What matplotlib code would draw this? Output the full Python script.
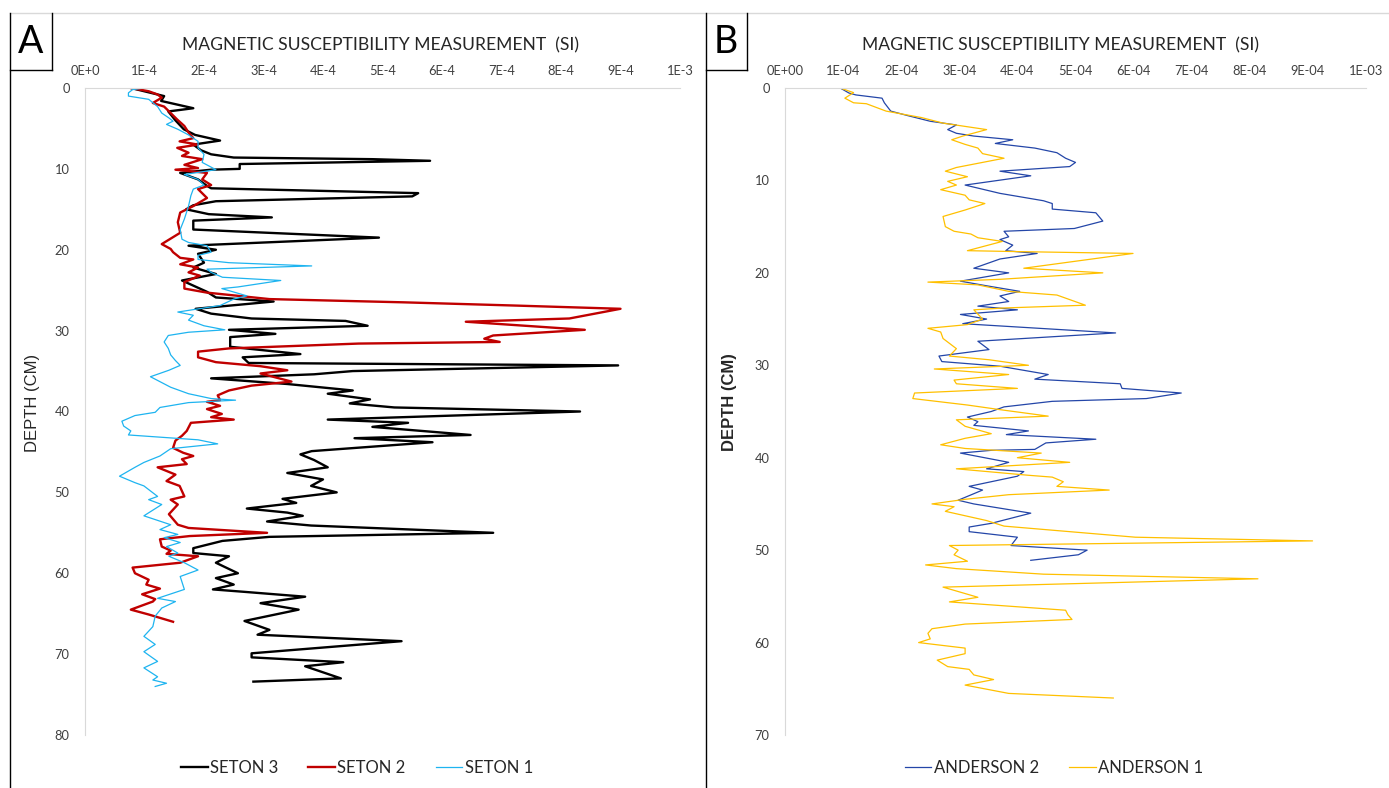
import numpy as np
import matplotlib
matplotlib.use('Agg')
import matplotlib.pyplot as plt
from matplotlib.lines import Line2D

# values are in units of 1E-4 SI, depths in cm
seton3_depth = [0, 1.0, 1.6, 2.5, 2.9, 4.0, 5.1, 5.8, 6.5, 7.0,
                7.7, 8.2, 8.6, 8.8, 9.0, 9.4, 10.0, 10.1, 10.5, 10.9,
                11.3, 12.1, 12.4, 13.0, 13.4, 14.0, 14.5, 15.0, 15.6, 16.0,
                16.4, 17.5, 18.5, 19.5, 20.0, 20.5, 21.6, 22.2, 23.0, 23.8,
                25.2, 25.9, 26.4, 27.3, 27.9, 28.5, 28.8, 29.4, 29.9, 30.4,
                30.8, 32.0, 32.9, 33.3, 34.0, 34.3, 35.0, 35.4, 35.9, 36.6,
                37.4, 37.8, 38.5, 39.0, 39.5, 40.0, 41.0, 41.4, 41.9, 42.9,
                43.3, 43.8, 44.9, 45.3, 46.0, 46.9, 47.6, 48.4, 49.2, 50.0,
                50.8, 51.3, 52.0, 52.5, 52.9, 53.6, 54.1, 55.0, 55.5, 56.0,
                56.9, 57.5, 57.9, 58.7, 60.0, 60.6, 61.4, 62.0, 62.3, 62.9,
                63.7, 64.5, 65.9, 67.0, 67.6, 68.4, 69.9, 70.4, 71.0, 71.5,
                73.0, 73.4]
seton3_val = [0.77, 1.33, 1.28, 1.82, 1.40, 1.52, 1.66, 1.85, 2.27, 1.82,
              1.95, 2.12, 2.50, 4.83, 5.80, 2.60, 2.60, 2.12, 1.60, 1.75,
              1.90, 2.05, 2.12, 5.60, 5.50, 2.20, 1.82, 1.70, 2.08, 3.14,
              1.82, 1.82, 4.94, 1.74, 2.20, 1.90, 2.00, 1.82, 2.20, 1.63,
              2.05, 2.20, 3.17, 1.86, 2.12, 2.80, 4.38, 4.75, 2.42, 3.20,
              2.44, 2.44, 3.62, 2.65, 2.75, 8.96, 4.50, 3.85, 2.12, 3.40,
              4.50, 4.08, 4.79, 4.45, 5.20, 8.32, 4.08, 5.43, 4.83, 6.48,
              4.53, 5.84, 3.81, 3.62, 3.85, 4.08, 3.40, 4.00, 3.80, 4.23,
              3.32, 3.55, 2.72, 3.40, 3.66, 3.06, 3.80, 6.86, 3.10, 2.31,
              1.82, 1.82, 2.42, 2.20, 2.57, 2.20, 2.50, 2.15, 2.68, 3.70,
              2.95, 3.59, 2.68, 3.10, 2.90, 5.32, 2.80, 2.80, 4.34, 3.70,
              4.30, 2.83]

seton2_depth = [0, 0.4, 0.8, 1.2, 1.85, 2.3, 3.1, 3.9, 4.7, 5.5,
                6.2, 6.6, 7.0, 7.4, 8.0, 8.4, 8.8, 9.5, 9.9, 10.1,
                10.5, 11.3, 12.0, 12.5, 13.6, 14.6, 15.4, 16.6, 17.9, 19.3,
                19.9, 20.3, 21.0, 21.2, 21.8, 22.2, 22.8, 23.2, 24.0, 24.8,
                25.3, 26.1, 26.5, 26.9, 27.3, 28.5, 28.9, 29.9, 30.6, 31.0,
                31.4, 31.6, 32.2, 32.6, 33.3, 33.9, 34.4, 34.9, 35.3, 36.3,
                36.8, 37.4, 38.0, 38.6, 38.8, 39.3, 39.7, 40.3, 40.7, 41.0,
                41.4, 42.4, 43.0, 43.6, 44.5, 45.1, 45.5, 45.9, 46.5, 46.9,
                47.8, 48.6, 49.2, 50.5, 50.9, 51.5, 52.7, 54.0, 54.4, 55.0,
                55.4, 55.8, 56.7, 57.2, 57.6, 57.9, 58.7, 59.3, 60.0, 60.8,
                61.4, 61.9, 62.6, 63.2, 63.5, 64.5, 65.1, 66.0]
seton2_val = [0.77, 1.07, 1.22, 1.29, 1.14, 1.33, 1.44, 1.55, 1.67, 1.74,
              1.82, 1.59, 1.90, 1.55, 1.74, 1.63, 1.97, 1.67, 1.90, 1.52,
              2.05, 1.97, 2.12, 1.90, 2.05, 1.82, 1.60, 1.56, 1.60, 1.29,
              1.44, 1.48, 1.60, 1.82, 1.60, 1.90, 1.74, 1.93, 1.67, 1.67,
              2.05, 3.10, 5.35, 7.23, 9.00, 8.14, 6.40, 8.40, 6.86, 6.71,
              6.97, 4.60, 2.42, 1.90, 1.90, 2.20, 2.95, 3.40, 2.95, 3.47,
              2.80, 2.42, 2.23, 2.27, 2.05, 2.27, 2.05, 2.30, 2.12, 2.50,
              1.78, 1.71, 1.63, 1.52, 1.48, 1.65, 1.82, 1.63, 1.71, 1.22,
              1.52, 1.37, 1.59, 1.67, 1.44, 1.56, 1.41, 1.56, 1.74, 3.06,
              1.76, 1.26, 1.29, 1.44, 1.37, 1.90, 1.60, 0.80, 0.84, 1.07,
              1.03, 1.26, 0.96, 1.18, 1.14, 0.77, 1.07, 1.48]

seton1_depth = [0, 0.2, 0.6, 1.0, 1.4, 2.3, 3.1, 3.7, 4.1, 4.5,
                5.1, 5.8, 6.6, 7.4, 8.2, 9.2, 10.1, 10.7, 11.3, 12.0,
                12.5, 13.3, 14.6, 16.2, 17.5, 18.7, 19.1, 19.5, 20.3, 20.7,
                21.2, 21.6, 22.0, 22.4, 22.8, 23.4, 23.8, 24.6, 24.8, 25.7,
                26.1, 26.9, 27.7, 28.1, 28.7, 29.4, 29.9, 30.2, 30.6, 31.4,
                32.2, 33.0, 33.7, 34.3, 34.9, 35.7, 37.0, 37.8, 38.4, 38.6,
                38.9, 39.5, 40.1, 40.5, 41.2, 41.8, 42.4, 42.9, 43.5, 44.0,
                44.6, 45.5, 46.3, 46.9, 48.0, 48.8, 49.2, 50.5, 50.9, 51.5,
                52.9, 54.0, 54.6, 55.2, 55.6, 56.2, 56.7, 57.5, 57.9, 58.7,
                59.6, 60.4, 62.0, 63.1, 63.5, 64.3, 65.3, 66.6, 67.8, 68.8,
                69.7, 70.9, 71.7, 72.8, 73.2, 73.6, 74.0]
seton1_val = [0.99, 0.80, 0.73, 0.73, 1.07, 1.22, 1.29, 1.41, 1.48, 1.37,
              1.56, 1.74, 1.90, 1.90, 2.00, 1.97, 2.20, 1.67, 1.90, 2.00,
              1.82, 1.78, 1.74, 1.67, 1.60, 1.63, 1.74, 2.05, 2.12, 1.90,
              1.90, 2.42, 3.81, 2.05, 2.12, 2.31, 3.29, 2.57, 2.30, 2.72,
              2.50, 2.27, 1.56, 1.82, 1.74, 2.00, 2.35, 1.74, 1.40, 1.33,
              1.40, 1.44, 1.52, 1.60, 1.41, 1.10, 1.44, 1.74, 2.12, 2.53,
              1.74, 1.26, 1.18, 0.84, 0.62, 0.65, 0.77, 0.73, 1.90, 2.23,
              1.44, 1.26, 0.99, 0.84, 0.58, 0.84, 0.99, 1.22, 1.07, 1.29,
              0.99, 1.44, 1.26, 1.56, 1.33, 1.60, 1.37, 1.56, 1.41, 1.67,
              1.90, 1.60, 1.67, 1.22, 1.52, 1.29, 1.18, 1.14, 0.99, 1.18,
              0.99, 1.22, 0.99, 1.22, 1.14, 1.37, 1.18]

anderson2_depth = [0, 0.54, 0.75, 1.1, 1.6, 2.5, 3.0, 3.6, 4.0, 4.5,
                   4.9, 5.2, 5.6, 6.0, 6.5, 7.0, 7.6, 8.05, 8.5, 9.0,
                   9.5, 10.5, 11.4, 12.2, 12.5, 13.1, 13.5, 14.4, 15.2, 15.5,
                   16.1, 16.4, 17.0, 17.6, 17.9, 18.5, 19.5, 20.0, 20.9, 21.4,
                   22.0, 22.5, 23.1, 23.6, 24.0, 24.5, 25.0, 25.5, 26.5, 27.4,
                   28.3, 29.0, 29.6, 30.1, 31.0, 31.5, 32.0, 32.5, 33.0, 33.6,
                   33.9, 34.5, 35.0, 35.6, 36.1, 36.5, 37.1, 37.5, 38.0, 38.4,
                   39.1, 39.2, 39.5, 40.5, 41.2, 41.5, 42.0, 43.1, 43.5, 44.6,
                   45.0, 46.0, 47.1, 47.5, 48.0, 48.6, 49.5, 50.0, 50.5, 51.1]
anderson2_val = [0.95, 1.10, 1.22, 1.67, 1.71, 1.82, 2.12, 2.50, 2.95, 2.80,
                 2.95, 3.25, 3.92, 3.62, 4.30, 4.68, 4.83, 5.00, 4.90, 3.70,
                 4.23, 3.10, 3.70, 4.45, 4.60, 4.60, 5.35, 5.47, 4.98, 3.77,
                 3.85, 3.70, 3.92, 3.80, 4.34, 3.70, 3.25, 3.85, 3.02, 3.47,
                 4.04, 3.70, 3.85, 3.32, 4.00, 3.02, 3.47, 3.06, 5.69, 3.32,
                 3.51, 2.65, 2.70, 3.70, 4.53, 4.30, 5.77, 5.80, 6.82, 6.22,
                 4.60, 3.77, 3.55, 3.14, 3.32, 3.25, 4.19, 3.81, 5.35, 4.49,
                 4.30, 3.55, 3.02, 3.85, 3.47, 4.11, 4.00, 3.17, 3.40, 2.98,
                 3.25, 4.23, 3.55, 3.17, 3.17, 4.00, 3.89, 5.20, 5.05, 4.23]

anderson1_depth = [0, 0.5, 1.1, 1.6, 1.7, 2.5, 3.2, 3.8, 4.5, 5.2,
                   5.6, 6.1, 6.5, 7.1, 7.6, 8.6, 9.0, 9.6, 10.1, 10.5,
                   11.0, 11.6, 12.1, 12.5, 13.2, 13.9, 15.0, 15.5, 15.8, 16.2,
                   16.6, 17.6, 17.7, 17.9, 19.5, 20.0, 20.7, 21.0, 21.3, 22.0,
                   22.4, 23.5, 23.8, 24.0, 25.0, 25.6, 26.0, 26.4, 27.1, 28.2,
                   29.0, 29.4, 30.0, 30.4, 31.0, 31.6, 32.0, 32.5, 33.0, 33.6,
                   34.3, 34.8, 35.5, 35.9, 36.6, 37.4, 37.9, 38.6, 39.0, 39.5,
                   40.0, 40.5, 41.2, 41.9, 42.1, 42.6, 43.1, 43.5, 44.0, 44.5,
                   45.0, 45.3, 45.8, 46.8, 47.4, 48.6, 49.0, 49.5, 50.0, 50.5,
                   51.2, 51.6, 52.0, 52.6, 53.1, 54.0, 55.1, 55.6, 56.5, 57.0,
                   57.5, 58.0, 58.5, 59.0, 59.6, 60.0, 60.6, 61.2, 61.9, 62.6,
                   62.9, 63.5, 64.0, 64.6, 65.5, 66.0]
anderson1_val = [0.95, 1.18, 1.03, 1.18, 1.40, 1.74, 2.35, 2.72, 3.47, 3.06,
                 2.87, 3.10, 3.32, 3.40, 3.77, 2.95, 2.76, 3.14, 2.80, 2.95,
                 2.68, 3.10, 3.17, 3.44, 3.10, 2.72, 2.76, 2.91, 3.20, 3.32,
                 3.74, 3.14, 4.00, 5.99, 4.11, 5.47, 3.70, 2.46, 3.32, 3.85,
                 4.68, 5.17, 3.77, 3.25, 3.40, 3.14, 2.46, 2.68, 2.72, 2.95,
                 2.83, 3.51, 4.19, 2.57, 3.85, 2.91, 2.95, 4.00, 2.23, 2.20,
                 3.14, 3.70, 4.53, 2.95, 3.10, 3.55, 3.10, 2.68, 3.10, 4.41,
                 4.00, 4.90, 2.95, 4.19, 4.60, 4.79, 4.68, 5.58, 3.85, 3.10,
                 2.53, 2.91, 2.76, 3.47, 3.77, 6.03, 9.08, 2.83, 2.98, 2.91,
                 3.14, 2.42, 2.95, 4.45, 8.14, 2.72, 3.32, 2.83, 4.83, 4.87,
                 4.94, 3.10, 2.53, 2.46, 2.50, 2.30, 3.10, 3.10, 2.62, 2.80,
                 3.17, 3.25, 3.59, 3.10, 3.85, 5.65]

xlabels_a = ['0E+0', '1E-4', '2E-4', '3E-4', '4E-4', '5E-4', '6E-4', '7E-4', '8E-4', '9E-4', '1E-3']
xlabels_b = ['0E+00', '1E-04', '2E-04', '3E-04', '4E-04', '5E-04', '6E-04', '7E-04', '8E-04', '9E-04', '1E-03']

plt.rcParams['font.family'] = ['Lato', 'DejaVu Sans']

W, H = 1389, 788
fig = plt.figure(figsize=(W / 100, H / 100), dpi=100)


def fx(px):
    return px / W


def fy(py):
    return 1 - py / H


def style(ax, ymax, xlabels):
    ax.set_xlim(0, 1e-3)
    ax.set_ylim(ymax, 0)
    ax.xaxis.tick_top()
    ax.set_xticks(np.arange(11) * 1e-4)
    ax.set_xticklabels(xlabels)
    ax.set_yticks(np.arange(0, ymax + 1, 10))
    ax.tick_params(length=0, labelsize=9.3, colors='#404040')
    ax.tick_params(axis='x', pad=8)
    ax.tick_params(axis='y', pad=11)
    ax.spines['right'].set_visible(False)
    ax.spines['bottom'].set_visible(False)
    ax.spines['left'].set_color('#d9d9d9')
    ax.spines['top'].set_color('#d9d9d9')


axA = fig.add_axes([fx(85), fy(735), (680 - 85) / W, (735 - 88) / H])
axB = fig.add_axes([fx(785), fy(735), (1366 - 785) / W, (735 - 88) / H])
style(axA, 80, xlabels_a)
style(axB, 70, xlabels_b)

s = 1e-4
axA.plot(np.array(seton3_val) * s, seton3_depth, color='black', lw=1.7, label='SETON 3')
axA.plot(np.array(seton2_val) * s, seton2_depth, color='#C00000', lw=1.7, label='SETON 2')
axA.plot(np.array(seton1_val) * s, seton1_depth, color='#1EB4F0', lw=0.9, label='SETON 1')

axB.plot(np.array(anderson2_val) * s, anderson2_depth, color='#2446A8', lw=0.9, label='ANDERSON 2')
axB.plot(np.array(anderson1_val) * s, anderson1_depth, color='#FFC000', lw=0.9, label='ANDERSON 1')

axA.set_ylabel('DEPTH (CM)', family=['Liberation Sans', 'DejaVu Sans'], fontsize=12, color='#262626')
axA.yaxis.set_label_coords((40 - 85) / 595, 0.513, transform=axA.transAxes)
axB.set_ylabel('DEPTH (CM)', family=['Liberation Sans', 'DejaVu Sans'], fontsize=12,
               fontweight='bold', color='#262626')
axB.yaxis.set_label_coords((737 - 785) / 581, 0.515, transform=axB.transAxes)

title = 'MAGNETIC SUSCEPTIBILITY MEASUREMENT  (SI)'
fig.text(fx(380), fy(45), title, ha='center', va='center', fontsize=12.6, color='#262626')
fig.text(fx(1060), fy(45), title, ha='center', va='center', fontsize=12.6, color='#262626')

for ax, cx in [(axA, 357), (axB, 1054)]:
    h, l = ax.get_legend_handles_labels()
    fig.legend(h, l, loc='center', bbox_to_anchor=(fx(cx), fy(768)), ncol=len(h),
               frameon=False, fontsize=12, handlelength=1.6, handletextpad=0.15,
               columnspacing=1.8, labelcolor='#262626')

# panel frames and letter boxes
frame = [
    ([10, 1389], [13, 13], '#d9d9d9'),
    ([10, 10], [13, 788], 'black'),
    ([706, 706], [13, 788], 'black'),
    ([52, 52], [13, 70], 'black'),
    ([10, 52], [70, 70], 'black'),
    ([747, 747], [13, 70], 'black'),
    ([706, 747], [70, 70], 'black'),
]
for xs, ys, c in frame:
    fig.add_artist(Line2D([fx(x) for x in xs], [fy(y) for y in ys], color=c, lw=1))

fig.text(fx(31), fy(42), 'A', ha='center', va='center', fontsize=27, color='black')
fig.text(fx(726), fy(42), 'B', ha='center', va='center', fontsize=27, color='black')

fig.savefig('out.png', dpi=100, facecolor='white')
